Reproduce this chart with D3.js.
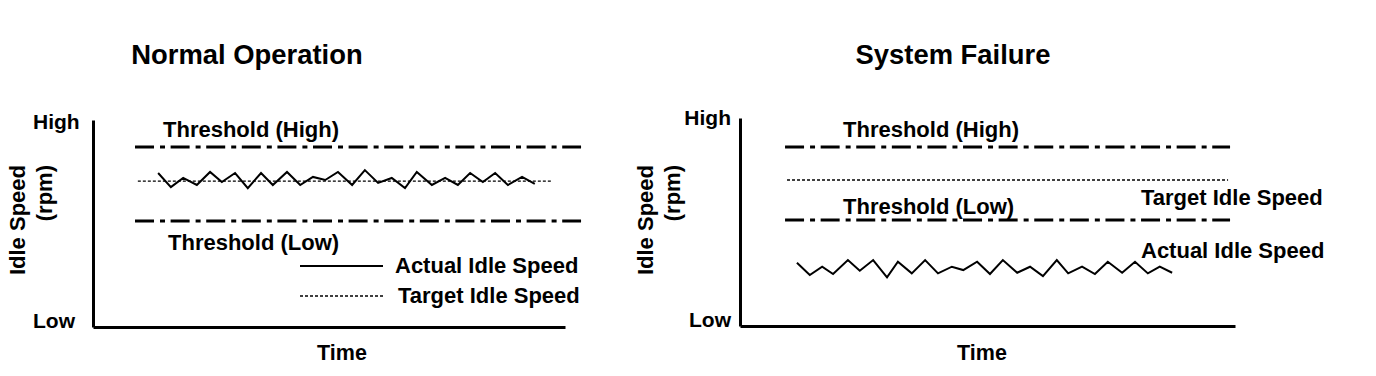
<!DOCTYPE html>
<html>
<head>
<meta charset="utf-8">
<script src="https://cdn.jsdelivr.net/npm/d3@7"></script>
<style>
  body { margin: 0; background: #fff; }
  svg { display: block; font-family: Arial, "Liberation Sans", sans-serif; font-weight: bold; }
</style>
</head>
<body>
<div id="chart"></div>
<script>
// panel titles and axis labels
const titles = ["Normal Operation", "System Failure"];
const yTickLabels = ["Low", "High"];
const yLabel = ["Idle Speed", "(rpm)"];
const xLabel = "Time";

// reference levels (0 = low, 100 = high)
const levelNames = ["Threshold (High)", "Target Idle Speed", "Threshold (Low)"];
const levelsNormal = [87.0, 70.5, 51.2];
const levelsFailure = [86.1, 70.2, 51.0];
// time extent of each level line
const spansNormal = [[8.9, 103.4], [9.5, 97.0], [8.9, 103.4]];
const spansFailure = [[9.1, 99.0], [9.5, 98.6], [9.1, 99.0]];

// actual idle speed samples
const timeNormal = [13.8, 16.5, 19.1, 22.0, 24.8, 27.3, 30.1, 32.8, 35.6, 38.1, 41.1, 43.9, 46.6, 49.2, 51.9,
    54.9, 57.6, 60.4, 63.3, 66.1, 68.6, 71.8, 74.6, 77.3, 79.9, 82.6, 85.2, 87.9, 90.9, 93.6];
const actualNormal = [74.4, 67.6, 72.0, 68.6, 74.9, 70.0, 74.4, 67.1, 74.4, 68.6, 74.9, 68.6, 72.5, 71.0, 74.9,
    68.6, 75.8, 69.6, 72.0, 67.1, 74.9, 68.6, 72.0, 68.6, 74.4, 70.0, 74.4, 68.6, 72.5, 69.1];
const timeFailure = [11.5, 14.1, 16.6, 18.8, 21.8, 24.2, 26.9, 29.7, 31.9, 34.7, 37.4, 40.0, 42.8, 45.1, 47.9,
    50.5, 53.1, 56.0, 58.6, 61.2, 64.0, 66.3, 69.1, 71.7, 74.3, 77.2, 79.8, 82.4, 84.8, 87.3];
const actualFailure = [30.4, 24.5, 28.5, 25.0, 31.7, 26.6, 31.7, 23.4, 30.9, 25.3, 31.7, 25.3, 28.5, 26.9, 30.9,
    25.0, 31.7, 25.6, 28.5, 24.0, 31.7, 25.3, 28.5, 25.0, 30.9, 25.6, 30.9, 25.3, 28.5, 25.6];

const legendNames = ["Actual Idle Speed", "Target Idle Speed"];

const svg = d3.select("#chart").append("svg")
    .attr("width", 1376).attr("height", 376);
svg.append("rect").attr("width", 1376).attr("height", 376).attr("fill", "#fff");

const dashDot = "19,6,5,5.6";
const dotted = "3,2";

// draws one panel; cfg holds the layout of that panel
function drawPanel(cfg) {
    const g = svg.append("g");
    const x = d3.scaleLinear().domain([0, 100]).range([cfg.x0, cfg.x1]);
    const y = d3.scaleLinear().domain([0, 100]).range([cfg.y0, cfg.y1]);

    // axes (domain lines only)
    g.append("g").attr("transform", "translate(" + cfg.x0 + ",0)")
        .call(d3.axisLeft(y).tickValues([]).tickSizeOuter(0));
    g.append("g").attr("transform", "translate(0," + cfg.y0 + ")")
        .call(d3.axisBottom(x).tickValues([]).tickSizeOuter(0));
    g.selectAll(".domain").attr("stroke", "#000").attr("stroke-width", 3);

    // High / Low labels
    g.append("text").attr("x", cfg.tickX).attr("y", y(100) + cfg.highDy)
        .attr("text-anchor", cfg.tickAnchor).style("font-size", "21px").text(yTickLabels[1]);
    g.append("text").attr("x", cfg.tickX).attr("y", y(0) + 1)
        .attr("text-anchor", cfg.tickAnchor).style("font-size", "21px").text(yTickLabels[0]);

    // y axis title, two rotated lines
    yLabel.forEach((t, i) => {
        g.append("text")
            .attr("transform", "translate(" + (cfg.labelX + i * 27) + "," + cfg.labelTop + ") rotate(-90)")
            .attr("text-anchor", "end").style("font-size", "22px").text(t);
    });

    // x axis title
    g.append("text").attr("x", cfg.timeX).attr("y", 360).attr("text-anchor", "middle")
        .style("font-size", "21.5px").text(xLabel);

    // panel title
    g.append("text").attr("x", cfg.titleX).attr("y", 64).attr("text-anchor", "middle")
        .style("font-size", "27.4px").text(cfg.title);

    // threshold and target lines
    cfg.levels.forEach((v, i) => {
        const isTarget = i === 1;
        g.append("line")
            .attr("x1", x(cfg.spans[i][0])).attr("x2", x(cfg.spans[i][1]))
            .attr("y1", y(v)).attr("y2", y(v))
            .attr("stroke", "#000")
            .attr("stroke-width", isTarget ? 1.3 : 3)
            .attr("stroke-dasharray", isTarget ? dotted : dashDot);
    });

    // level labels
    cfg.levelLabels.forEach(l => {
        g.append("text").attr("x", l.x).attr("y", l.y).style("font-size", "22px").text(l.text);
    });

    // actual idle speed
    const line = d3.line().x(d => x(d[0])).y(d => y(d[1]));
    g.append("path")
        .datum(d3.zip(cfg.time, cfg.actual))
        .attr("d", line)
        .attr("fill", "none").attr("stroke", "#000").attr("stroke-width", 2)
        .attr("stroke-linejoin", "miter");
    return g;
}

const left = drawPanel({
    title: titles[0], titleX: 247,
    x0: 93, x1: 565, y0: 327, y1: 120,
    tickX: 33, tickAnchor: "start", highDy: 9,
    labelX: 25, labelTop: 165, timeX: 342,
    levels: levelsNormal, spans: spansNormal,
    time: timeNormal, actual: actualNormal,
    levelLabels: [
        {text: levelNames[0], x: 163, y: 137},
        {text: levelNames[2], x: 168, y: 250}
    ]
});

const right = drawPanel({
    title: titles[1], titleX: 953,
    x0: 740, x1: 1235, y0: 326, y1: 118,
    tickX: 731, tickAnchor: "end", highDy: 7,
    labelX: 653, labelTop: 165, timeX: 982,
    levels: levelsFailure, spans: spansFailure,
    time: timeFailure, actual: actualFailure,
    levelLabels: [
        {text: levelNames[0], x: 843, y: 137},
        {text: levelNames[2], x: 843, y: 214},
        {text: levelNames[1], x: 1141, y: 205},
        {text: legendNames[0], x: 1141, y: 258}
    ]
});

// legend in the normal operation panel
const legend = left.append("g");
legendNames.forEach((name, i) => {
    const ly = 266 + i * 30;
    legend.append("line").attr("x1", 300).attr("x2", 383).attr("y1", ly).attr("y2", ly)
        .attr("stroke", "#000").attr("stroke-width", i === 0 ? 2 : 1.3)
        .attr("stroke-dasharray", i === 0 ? null : dotted);
    legend.append("text").attr("x", i === 0 ? 395 : 398).attr("y", ly + 7)
        .style("font-size", "22px").text(name);
});
</script>
</body>
</html>
